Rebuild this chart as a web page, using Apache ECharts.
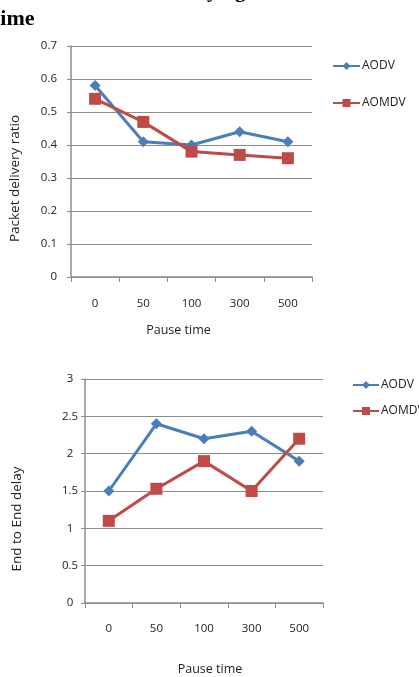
<!DOCTYPE html>
<html>
<head>
<meta charset="utf-8">
<script src="https://cdn.jsdelivr.net/npm/echarts@6/dist/echarts.min.js"></script>
<style>
  html, body { margin: 0; padding: 0; background: #fff; }
  #chart { width: 419px; height: 677px; }
</style>
</head>
<body>
<div id="chart"></div>
<script>
  // pause time categories, shared by both charts
  var pauseTimes = ['0', '50', '100', '300', '500'];

  // packet delivery ratio
  var pdrAodv  = [0.58, 0.41, 0.40, 0.44, 0.41];
  var pdrAomdv = [0.54, 0.47, 0.38, 0.37, 0.36];

  // end to end delay
  var delayAodv  = [1.5, 2.4, 2.2, 2.3, 1.9];
  var delayAomdv = [1.1, 1.53, 1.9, 1.5, 2.2];

  var blue = '#4a7ebb', red = '#be4b48';
  var gridCol = '#8c8c8c';
  var font = 'Open Sans';

  function xAxisFor(idx, margin, gap, namePad) {
    return {
      type: 'category', gridIndex: idx, data: pauseTimes, boundaryGap: true,
      name: 'Pause time', nameLocation: 'middle', nameGap: gap,
      nameTextStyle: { fontFamily: font, fontSize: 12.5, color: '#222', padding: namePad },
      axisLine: { lineStyle: { color: gridCol, width: 1.5 } },
      axisTick: { show: true, length: 5, lineStyle: { color: gridCol } },
      axisLabel: { margin: margin, fontFamily: font, fontSize: 11.5, color: '#222' }
    };
  }
  function yAxisFor(idx, max, interval, name, gap, namePad, margin, align) {
    return {
      type: 'value', gridIndex: idx, min: 0, max: max, interval: interval,
      name: name, nameLocation: 'middle', nameGap: gap, nameRotate: 90,
      nameTextStyle: { fontFamily: font, fontSize: 13.5, color: '#222', padding: namePad },
      axisLine: { show: true, lineStyle: { color: gridCol, width: 1.5 } },
      axisTick: { show: true, length: 4, lineStyle: { color: gridCol } },
      splitLine: { lineStyle: { color: gridCol, width: 1 } },
      axisLabel: { margin: margin, align: align, fontFamily: font, fontSize: 11.5, color: '#222' }
    };
  }
  function lineSeries(name, data, idx, color, symbol, size) {
    return {
      name: name, type: 'line', xAxisIndex: idx, yAxisIndex: idx, data: data,
      symbol: symbol, symbolSize: size,
      lineStyle: { color: color, width: 3 },
      itemStyle: { color: color },
      animation: false
    };
  }

  var myChart = echarts.init(document.getElementById('chart'));
  myChart.setOption({
    backgroundColor: '#fff',
    graphic: [
      { type: 'text', left: 10, top: -19,
        style: { text: 'Performance with varying Pause', font: 'bold 21px "Liberation Serif"', fill: '#000' } },
      { type: 'text', left: -7, top: 8,
        style: { text: 'time', font: 'bold 22px "Liberation Serif"', fill: '#000' } }
    ],
    grid: [
      { left: 67, right: 107, top: 46, height: 231 },
      { left: 85, right: 96, top: 379, height: 230 }
    ],
    legend: [
      { orient: 'vertical', left: 332, top: 60, padding: 0, itemWidth: 27, itemHeight: 10, itemGap: 25,
        data: ['AODV', 'AOMDV'], textStyle: { fontFamily: font, fontSize: 12, color: '#222', padding: [0, 0, 0, -3] } },
      { orient: 'vertical', left: 352, top: 379, padding: 0, itemWidth: 26, itemHeight: 10, itemGap: 14,
        data: ['AODV', 'AOMDV'], textStyle: { fontFamily: font, fontSize: 12, color: '#222', padding: [0, 0, 0, -3] } }
    ],
    xAxis: [xAxisFor(0, 21, 47, [0, 26, 0, 0]), xAxisFor(1, 20, 60, [0, 0, 0, 12])],
    yAxis: [
      yAxisFor(0, 0.7, 0.1, 'Packet delivery ratio', 49, [0, 34, 0, 0], 14, 'right'),
      yAxisFor(1, 3, 0.5, 'End to End delay', 61, [0, 56, 0, 0], 15, 'center')
    ],
    series: [
      lineSeries('AODV', pdrAodv, 0, blue, 'diamond', 11),
      lineSeries('AOMDV', pdrAomdv, 0, red, 'rect', 12),
      lineSeries('AODV', delayAodv, 1, blue, 'diamond', 11),
      lineSeries('AOMDV', delayAomdv, 1, red, 'rect', 12)
    ]
  });
  window.addEventListener('resize', function () {
    myChart.resize();
  });
</script>
</body>
</html>
